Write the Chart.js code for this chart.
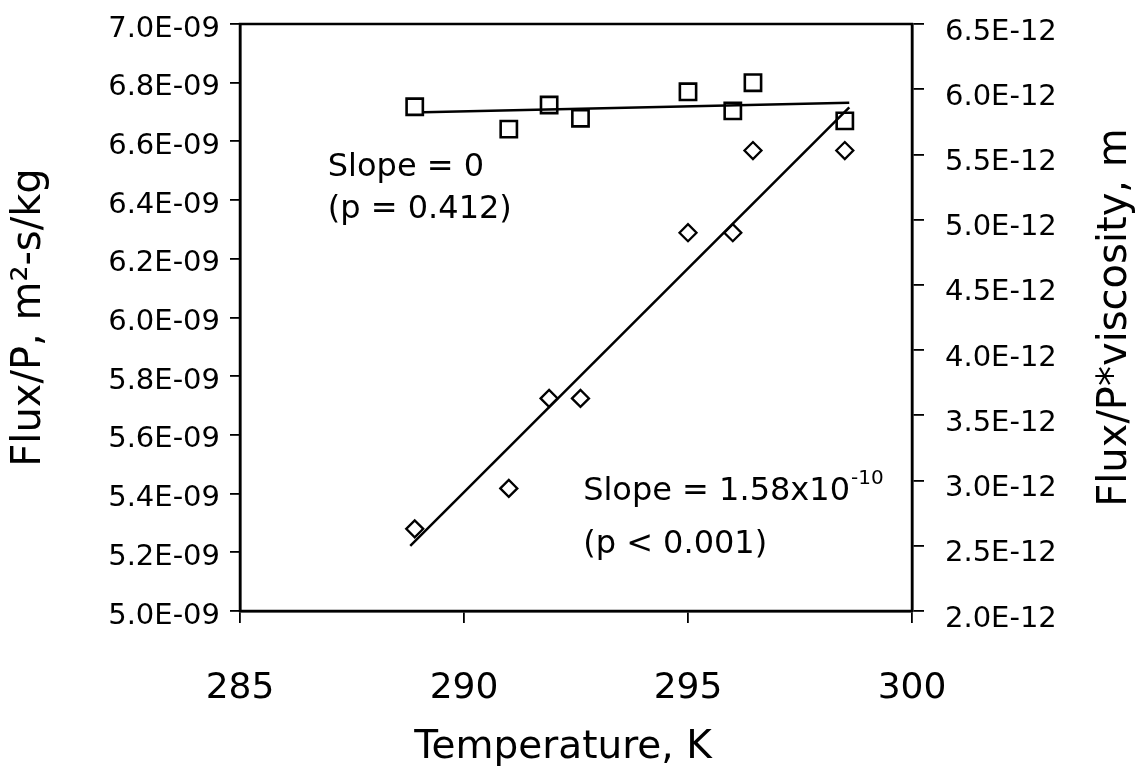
<!DOCTYPE html>
<html>
<head>
<meta charset="utf-8">
<script src="https://cdn.jsdelivr.net/npm/chart.js@4.4.1/dist/chart.umd.min.js"></script>
<style>
html,body{margin:0;padding:0;background:#fff;}
#wrap{width:1148px;height:771px;}
</style>
</head>
<body>
<div id="wrap"><canvas id="c" width="1148" height="771"></canvas></div>
<script>
// ---- data ----
const temperatureK = [288.9, 291.0, 291.9, 292.6, 295.0, 296.0, 296.45, 298.5];
const fluxPerP = [6.718e-9, 6.642e-9, 6.724e-9, 6.679e-9, 6.769e-9, 6.704e-9, 6.800e-9, 6.670e-9];
const fluxPerPVisc = [2.63e-12, 2.94e-12, 3.63e-12, 3.63e-12, 4.90e-12, 4.90e-12, 5.53e-12, 5.53e-12];

const fitFluxX = [289.1, 298.6];
const fitFluxY = [6.699e-9, 6.732e-9];
const fitViscX = [288.8, 298.6];
const fitViscY = [2.50e-12, 5.86e-12];

const xTickLabels = ['285', '290', '295', '300'];
const yLeftTickLabels = ['5.0E-09','5.2E-09','5.4E-09','5.6E-09','5.8E-09','6.0E-09','6.2E-09','6.4E-09','6.6E-09','6.8E-09','7.0E-09'];
const yRightTickLabels = ['2.0E-12','2.5E-12','3.0E-12','3.5E-12','4.0E-12','4.5E-12','5.0E-12','5.5E-12','6.0E-12','6.5E-12'];

const xTitle = 'Temperature, K';
const yLeftTitle = 'Flux/P, m\u00B2-s/kg';
const yRightTitle = 'Flux/P*viscosity, m';

const annText = ['Slope = 0', '(p = 0.412)', 'Slope = 1.58x10', '(p < 0.001)'];
const annSup  = ['', '', '-10', ''];
const annX    = [286.96, 286.96, 292.66, 292.66];
const annY    = [6.509e-9, 6.366e-9, 5.407e-9, 5.225e-9];

// ---- rendering ----
const FONT = "'DejaVu Sans', 'Liberation Sans', sans-serif";

const framePlugin = {
  id: 'frame',
  beforeDatasetsDraw(chart) {
    const {ctx, chartArea: a} = chart;
    ctx.save();
    ctx.strokeStyle = '#000';
    ctx.lineWidth = 2.5;
    ctx.strokeRect(a.left, a.top, a.right - a.left, a.bottom - a.top);
    ctx.restore();
  }
};

const textPlugin = {
  id: 'texts',
  afterDraw(chart) {
    const {ctx, chartArea: a} = chart;
    const xs = chart.scales.x, ys = chart.scales.y;
    ctx.save();
    ctx.fillStyle = '#000';
    ctx.textBaseline = 'middle';
    ctx.textAlign = 'left';
    annText.forEach((t, i) => {
      const px = xs.getPixelForValue(annX[i]);
      const py = ys.getPixelForValue(annY[i]);
      ctx.font = '32px ' + FONT;
      ctx.fillText(t, px, py);
      if (annSup[i]) {
        const w = ctx.measureText(t).width;
        ctx.font = '20px ' + FONT;
        ctx.fillText(annSup[i], px + w + 1, py - 13);
      }
    });
    // x-axis title
    ctx.font = '39px ' + FONT;
    ctx.textAlign = 'center';
    ctx.fillText(xTitle, (a.left + a.right) / 2 - 13, a.bottom + 137);
    // right axis title (reads bottom to top)
    ctx.font = '40px ' + FONT;
    ctx.translate(a.right + 204, (a.top + a.bottom) / 2);
    ctx.rotate(-Math.PI / 2);
    ctx.fillText(yRightTitle, 0, 0);
    ctx.restore();
  }
};

const pts = (xsArr, ysArr) => xsArr.map((v, i) => ({x: v, y: ysArr[i]}));

new Chart(document.getElementById('c'), {
  type: 'scatter',
  data: {
    datasets: [
      {
        label: 'Flux/P',
        data: pts(temperatureK, fluxPerP),
        yAxisID: 'y',
        pointStyle: 'rect',
        pointRadius: 11.5,
        pointBorderWidth: 2.6,
        borderColor: '#000',
        backgroundColor: 'rgba(0,0,0,0)',
        showLine: false
      },
      {
        label: 'Flux/P fit',
        data: pts(fitFluxX, fitFluxY),
        yAxisID: 'y',
        showLine: true,
        pointRadius: 0,
        borderColor: '#000',
        borderWidth: 2.5,
        fill: false
      },
      {
        label: 'Flux/P*viscosity',
        data: pts(temperatureK, fluxPerPVisc),
        yAxisID: 'y2',
        pointStyle: 'rectRot',
        pointRadius: 8.5,
        pointBorderWidth: 2.3,
        borderColor: '#000',
        backgroundColor: 'rgba(0,0,0,0)',
        showLine: false
      },
      {
        label: 'Flux/P*viscosity fit',
        data: pts(fitViscX, fitViscY),
        yAxisID: 'y2',
        showLine: true,
        pointRadius: 0,
        borderColor: '#000',
        borderWidth: 2.5,
        fill: false
      }
    ]
  },
  options: {
    responsive: false,
    animation: false,
    devicePixelRatio: 1,
    layout: {padding: {top: 24, left: 0, right: 0, bottom: 0}},
    plugins: {legend: {display: false}, tooltip: {enabled: false}},
    scales: {
      x: {
        type: 'linear',
        position: 'bottom',
        min: 285, max: 300,
        afterBuildTicks: s => { s.ticks = xTickLabels.map(l => ({value: parseFloat(l)})); },
        ticks: {
          callback: (v, i) => xTickLabels[i],
          font: {family: FONT, size: 36},
          color: '#000',
          padding: 44,
          maxRotation: 0,
          autoSkip: false
        },
        grid: {drawOnChartArea: false, drawTicks: true, tickLength: 12, color: '#000', lineWidth: 1.8},
        border: {display: true, color: '#000', width: 2.5},
        title: {display: false},
        afterFit: s => { s.height = 160; }
      },
      y: {
        type: 'linear',
        position: 'left',
        min: 5e-9, max: 7e-9,
        afterBuildTicks: s => { s.ticks = yLeftTickLabels.map(l => ({value: parseFloat(l)})); },
        ticks: {
          callback: (v, i) => yLeftTickLabels[i],
          font: {family: FONT, size: 29},
          color: '#000',
          padding: 10,
          labelOffset: 5,
          autoSkip: false
        },
        grid: {drawOnChartArea: false, drawTicks: true, tickLength: 10, color: '#000', lineWidth: 1.8},
        border: {display: true, color: '#000', width: 2.5},
        title: {display: true, text: yLeftTitle, color: '#000', font: {family: FONT, size: 40}, padding: {top: 6, bottom: 0}},
        afterFit: s => { s.width = 240; s.paddingTop = 0; s.paddingBottom = 0; }
      },
      y2: {
        type: 'linear',
        position: 'right',
        min: 2e-12, max: 6.5e-12,
        afterBuildTicks: s => { s.ticks = yRightTickLabels.map(l => ({value: parseFloat(l)})); },
        ticks: {
          callback: (v, i) => yRightTickLabels[i],
          font: {family: FONT, size: 29},
          color: '#000',
          padding: 21,
          labelOffset: 8,
          autoSkip: false
        },
        grid: {drawOnChartArea: false, drawTicks: true, tickLength: 12, color: '#000', lineWidth: 1.8},
        border: {display: true, color: '#000', width: 2.5},
        title: {display: false},
        afterFit: s => { s.width = 236; s.paddingTop = 0; s.paddingBottom = 0; }
      }
    }
  },
  plugins: [framePlugin, textPlugin]
});
</script>
</body>
</html>
